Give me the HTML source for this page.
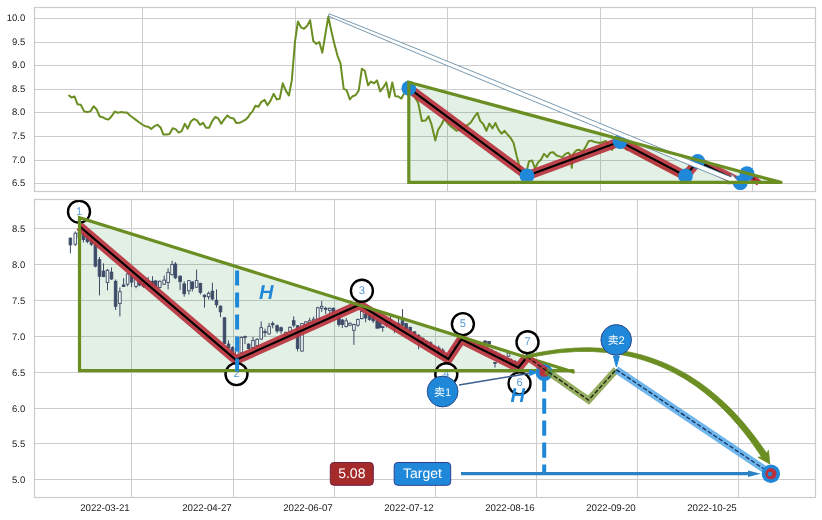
<!DOCTYPE html>
<html lang="zh"><head><meta charset="utf-8"><title>Chart</title><style>html,body{margin:0;padding:0;background:#fff;}svg{display:block;}</style></head><body>
<svg width="822" height="520" viewBox="0 0 822 520" text-rendering="geometricPrecision" font-family="'Liberation Sans', 'Noto Sans CJK SC', sans-serif">
<rect x="0" y="0" width="822" height="520" fill="#ffffff"/>
<defs>
<clipPath id="ct"><rect x="34.5" y="7.5" width="781.0" height="184.0"/></clipPath>
<clipPath id="cb"><rect x="34.5" y="199.5" width="781.0" height="298.0"/></clipPath>
</defs>
<g stroke="#cccccc" stroke-width="1" fill="none">
<line x1="34.5" y1="18.5" x2="815.5" y2="18.5"/>
<line x1="34.5" y1="42.5" x2="815.5" y2="42.5"/>
<line x1="34.5" y1="65.5" x2="815.5" y2="65.5"/>
<line x1="34.5" y1="89.5" x2="815.5" y2="89.5"/>
<line x1="34.5" y1="112.5" x2="815.5" y2="112.5"/>
<line x1="34.5" y1="136.5" x2="815.5" y2="136.5"/>
<line x1="34.5" y1="160.5" x2="815.5" y2="160.5"/>
<line x1="34.5" y1="183.5" x2="815.5" y2="183.5"/>
<line x1="142.5" y1="7.5" x2="142.5" y2="191.5"/>
<line x1="295.5" y1="7.5" x2="295.5" y2="191.5"/>
<line x1="447.5" y1="7.5" x2="447.5" y2="191.5"/>
<line x1="600.5" y1="7.5" x2="600.5" y2="191.5"/>
<line x1="752.5" y1="7.5" x2="752.5" y2="191.5"/>
<line x1="34.5" y1="228.5" x2="815.5" y2="228.5"/>
<line x1="34.5" y1="264.5" x2="815.5" y2="264.5"/>
<line x1="34.5" y1="300.5" x2="815.5" y2="300.5"/>
<line x1="34.5" y1="336.5" x2="815.5" y2="336.5"/>
<line x1="34.5" y1="372.5" x2="815.5" y2="372.5"/>
<line x1="34.5" y1="408.5" x2="815.5" y2="408.5"/>
<line x1="34.5" y1="443.5" x2="815.5" y2="443.5"/>
<line x1="34.5" y1="479.5" x2="815.5" y2="479.5"/>
<line x1="131.5" y1="199.5" x2="131.5" y2="497.5"/>
<line x1="233.5" y1="199.5" x2="233.5" y2="497.5"/>
<line x1="334.5" y1="199.5" x2="334.5" y2="497.5"/>
<line x1="435.5" y1="199.5" x2="435.5" y2="497.5"/>
<line x1="536.5" y1="199.5" x2="536.5" y2="497.5"/>
<line x1="637.5" y1="199.5" x2="637.5" y2="497.5"/>
<line x1="738.5" y1="199.5" x2="738.5" y2="497.5"/>
</g>
<g fill="#222222" font-size="9.5px" text-anchor="end">
<text x="25.3" y="21.30">10.0</text>
<text x="25.3" y="45.30">9.5</text>
<text x="25.3" y="68.30">9.0</text>
<text x="25.3" y="92.30">8.5</text>
<text x="25.3" y="115.30">8.0</text>
<text x="25.3" y="139.30">7.5</text>
<text x="25.3" y="163.30">7.0</text>
<text x="25.3" y="186.30">6.5</text>
<text x="25.3" y="231.60">8.5</text>
<text x="25.3" y="267.60">8.0</text>
<text x="25.3" y="303.60">7.5</text>
<text x="25.3" y="339.60">7.0</text>
<text x="25.3" y="375.60">6.5</text>
<text x="25.3" y="411.60">6.0</text>
<text x="25.3" y="446.60">5.5</text>
<text x="25.3" y="482.60">5.0</text>
<text x="129.70" y="510.9" font-size="9.7px">2022-03-21</text>
<text x="231.70" y="510.9" font-size="9.7px">2022-04-27</text>
<text x="332.70" y="510.9" font-size="9.7px">2022-06-07</text>
<text x="433.70" y="510.9" font-size="9.7px">2022-07-12</text>
<text x="534.70" y="510.9" font-size="9.7px">2022-08-16</text>
<text x="635.70" y="510.9" font-size="9.7px">2022-09-20</text>
<text x="736.70" y="510.9" font-size="9.7px">2022-10-25</text>
</g>
<g clip-path="url(#ct)">
<polygon points="408.8,82.3 408.8,182.4 781.0,182.4" fill="#1e8c3c" fill-opacity="0.13"/>
<path d="M69.2,95.6 L71.4,97.5 L74.6,96.5 L77.5,104.3 L80.7,104.8 L84.3,111.6 L87.5,112.1 L90.7,111.1 L93.6,106.3 L96.5,109.2 L99.7,116.5 L102.6,117.2 L105.7,118.9 L108.7,119.4 L111.8,116.0 L114.7,111.6 L117.9,112.8 L120.8,112.1 L124.0,112.4 L126.9,112.6 L130.1,115.5 L133.0,117.7 L136.2,120.1 L139.1,122.3 L142.2,124.5 L145.2,126.2 L148.3,126.7 L151.2,128.9 L154.4,126.2 L157.3,124.8 L160.5,127.4 L163.4,134.5 L166.6,134.5 L169.5,134.0 L172.7,128.2 L175.6,129.1 L178.7,132.6 L181.7,131.1 L184.8,123.8 L187.7,128.7 L190.9,121.4 L193.8,118.9 L197.0,120.4 L199.9,124.8 L203.1,122.8 L206.0,127.7 L209.1,127.7 L212.1,121.4 L215.2,117.0 L218.2,118.4 L221.3,123.8 L224.2,119.4 L227.4,115.5 L230.3,117.7 L233.5,118.4 L236.4,123.1 L239.6,122.8 L242.5,121.4 L245.6,119.7 L248.6,116.5 L250.0,114.0 L252.4,111.6 L255.4,105.7 L258.5,106.7 L261.4,101.8 L264.6,99.9 L267.5,105.2 L270.7,100.4 L273.6,93.8 L276.8,99.4 L279.7,98.7 L282.8,83.3 L285.8,90.6 L288.9,95.5 L291.8,80.4 L295.0,41.5 L297.9,21.5 L301.1,27.4 L304.0,28.8 L307.2,25.7 L310.1,20.1 L313.3,41.0 L316.2,43.9 L319.3,42.0 L322.3,52.7 L325.4,34.2 L328.3,16.7 L331.5,31.8 L334.4,43.9 L337.6,56.1 L340.5,63.4 L343.7,88.9 L346.6,90.2 L349.8,99.4 L352.7,96.2 L355.8,95.0 L358.8,90.2 L361.9,68.7 L364.8,70.7 L368.0,85.3 L370.9,81.6 L374.1,83.3 L377.0,80.4 L380.2,91.4 L383.1,87.7 L386.3,82.4 L389.2,97.5 L392.3,82.4 L395.3,96.2 L398.4,96.5 L401.3,98.7 L404.5,92.6 L406.1,90.7 L409.0,88.2 L411.7,91.9 L414.6,96.8 L418.2,102.8 L421.9,121.1 L425.5,120.6 L428.5,116.2 L431.6,124.7 L435.3,140.6 L438.2,129.6 L441.4,124.7 L444.3,118.7 L447.4,123.0 L450.4,126.0 L453.5,128.4 L456.4,130.8 L459.6,129.6 L462.5,128.4 L465.2,126.4 L468.1,124.7 L471.0,122.3 L474.2,117.0 L477.4,112.8 L480.3,121.1 L483.2,124.0 L486.4,130.8 L489.3,123.5 L492.5,128.4 L495.4,123.0 L498.5,129.6 L501.5,133.7 L504.6,130.8 L507.5,134.5 L510.7,138.1 L513.6,143.0 L516.8,156.4 L519.7,167.3 L522.9,172.2 L525.8,174.6 L529.0,161.2 L532.1,160.5 L535.0,168.5 L538.0,162.5 L541.1,159.5 L544.0,153.9 L547.2,157.1 L550.1,152.7 L553.3,152.2 L556.2,155.2 L559.4,156.4 L562.3,157.1 L565.5,153.9 L568.4,152.7 L570.3,155.2 L571.8,167.8 L573.2,153.9 L576.4,150.3 L579.3,149.8 L582.5,151.5 L585.4,147.4 L588.6,141.3 L591.5,140.6 L594.6,142.0 L597.6,142.5 L600.0,143.0 L603.0,142.0 L606.0,141.0 L609.0,146.0 L612.0,150.0 L615.0,143.0 L618.0,140.0 L621.0,141.0 L624.0,146.0 L627.0,150.0 L630.0,148.0 L633.0,151.0 L636.0,154.0 L639.0,153.0 L642.0,157.0 L645.0,158.0 L648.0,160.0 L651.0,161.0 L654.0,163.0 L657.0,165.0 L660.0,166.0 L663.0,168.0 L666.0,169.0 L669.0,170.0 L672.0,172.0 L675.0,173.0 L678.0,174.0 L681.0,175.0 L684.0,176.0 L687.0,172.0 L690.0,166.0 L693.0,163.0 L696.0,161.0 L699.0,162.0 L702.0,164.0 L705.0,166.0 L708.0,167.0 L711.0,168.0 L714.0,170.0 L717.0,171.0 L720.0,172.0 L723.0,174.0 L726.0,175.0 L729.0,177.0 L732.0,178.0 L735.0,180.0 L738.0,181.0 L741.0,181.0 L744.0,177.0 L747.0,174.0" fill="none" stroke="#6b8e23" stroke-width="2" stroke-linejoin="round" stroke-linecap="round"/>
<polyline points="408.8,88.2 527.0,175.8 620.1,141.6 685.5,176.0 697.7,161.4 740.3,182.7 747.0,173.6" fill="none" stroke="#b9333e" stroke-opacity="0.92" stroke-width="9.4" stroke-linejoin="miter" stroke-linecap="butt"/>
<polyline points="408.8,88.2 527.0,175.8 620.1,141.6 685.5,176.0 697.7,161.4 740.3,182.7 747.0,173.6" fill="none" stroke="#000000" stroke-width="2.1" stroke-linejoin="miter"/>
<line x1="747.0" y1="173.6" x2="759.0" y2="183.0" stroke="#b9333e" stroke-width="6.5"/>
<line x1="747.0" y1="173.6" x2="759.0" y2="183.0" stroke="#5a1a1a" stroke-width="1.4" stroke-dasharray="4 2"/>
<circle cx="408.8" cy="88.2" r="7.4" fill="#2088d8"/>
<circle cx="527.0" cy="175.8" r="7.4" fill="#2088d8"/>
<circle cx="620.1" cy="141.6" r="7.4" fill="#2088d8"/>
<circle cx="685.5" cy="176.0" r="7.4" fill="#2088d8"/>
<circle cx="697.7" cy="161.4" r="7.4" fill="#2088d8"/>
<circle cx="740.3" cy="182.7" r="7.4" fill="#2088d8"/>
<circle cx="747.0" cy="173.6" r="7.4" fill="#2088d8"/>
<polygon points="328.2,16.0 376.2,36.2 420.3,54.5 500.5,87.6 729.4,181.4 727.3,183.9 740.0,183.2 731.4,173.8 731.2,177.0 502.2,83.5 421.8,50.8 377.5,33.0 329.2,13.8" fill="#ffffff" stroke="#3f6f8f" stroke-width="0.7" stroke-linejoin="miter"/>
<path d="M781.0,182.4 L408.8,182.4 L408.8,82.3 L781.0,182.4" fill="none" stroke="#6b8e23" stroke-width="3.2" stroke-linejoin="miter" stroke-linecap="round"/>
</g>
<g clip-path="url(#cb)">
<polygon points="79.5,217.6 79.5,370.6 573.0,370.6" fill="#1e8c3c" fill-opacity="0.13"/>
<g stroke="#3c4a66" stroke-width="1">
<line x1="70.4" y1="237.4" x2="70.4" y2="253.3"/>
<rect x="69.1" y="238.2" width="2.6" height="6.6" fill="#3c4a66" stroke-width="0.9"/>
<line x1="75.3" y1="231.4" x2="75.3" y2="246.0"/>
<rect x="74.0" y="233.2" width="2.6" height="11.0" fill="#f6fbf7" stroke-width="0.9"/>
<line x1="79.4" y1="230.5" x2="79.4" y2="241.5"/>
<rect x="78.1" y="232.3" width="2.6" height="5.5" fill="#3c4a66" stroke-width="0.9"/>
<line x1="83.4" y1="232.3" x2="83.4" y2="242.4"/>
<rect x="82.1" y="234.1" width="2.6" height="5.5" fill="#3c4a66" stroke-width="0.9"/>
<line x1="87.4" y1="234.1" x2="87.4" y2="243.3"/>
<rect x="86.1" y="236.0" width="2.6" height="5.5" fill="#3c4a66" stroke-width="0.9"/>
<line x1="91.4" y1="237.8" x2="91.4" y2="246.0"/>
<rect x="90.1" y="239.6" width="2.6" height="4.6" fill="#3c4a66" stroke-width="0.9"/>
<line x1="95.4" y1="243.3" x2="95.4" y2="267.4"/>
<rect x="94.1" y="245.1" width="2.6" height="21.0" fill="#3c4a66" stroke-width="0.9"/>
<line x1="99.5" y1="257.0" x2="99.5" y2="295.4"/>
<rect x="98.2" y="259.7" width="2.6" height="16.5" fill="#3c4a66" stroke-width="0.9"/>
<line x1="103.5" y1="263.4" x2="103.5" y2="277.1"/>
<rect x="102.2" y="271.1" width="2.6" height="5.5" fill="#3c4a66" stroke-width="0.9"/>
<line x1="107.5" y1="268.9" x2="107.5" y2="290.4"/>
<rect x="106.2" y="270.3" width="2.6" height="12.2" fill="#f6fbf7" stroke-width="0.9"/>
<line x1="111.5" y1="267.4" x2="111.5" y2="279.8"/>
<rect x="110.2" y="272.2" width="2.6" height="6.8" fill="#3c4a66" stroke-width="0.9"/>
<line x1="115.6" y1="279.5" x2="115.6" y2="310.0"/>
<rect x="114.3" y="281.3" width="2.6" height="25.0" fill="#3c4a66" stroke-width="0.9"/>
<line x1="119.9" y1="287.5" x2="119.9" y2="316.4"/>
<rect x="118.6" y="291.7" width="2.6" height="11.9" fill="#f6fbf7" stroke-width="0.9"/>
<line x1="123.6" y1="278.0" x2="123.6" y2="286.8"/>
<rect x="122.3" y="285.0" width="2.6" height="1.5" fill="#3c4a66" stroke-width="0.9"/>
<line x1="127.6" y1="272.5" x2="127.6" y2="286.4"/>
<rect x="126.3" y="274.0" width="2.6" height="10.2" fill="#f6fbf7" stroke-width="0.9"/>
<line x1="131.6" y1="274.0" x2="131.6" y2="287.2"/>
<rect x="130.3" y="275.5" width="2.6" height="6.6" fill="#3c4a66" stroke-width="0.9"/>
<line x1="136.0" y1="276.9" x2="136.0" y2="288.3"/>
<rect x="134.7" y="278.4" width="2.6" height="8.0" fill="#f6fbf7" stroke-width="0.9"/>
<line x1="139.8" y1="278.4" x2="139.8" y2="286.4"/>
<rect x="138.5" y="279.9" width="2.6" height="5.1" fill="#3c4a66" stroke-width="0.9"/>
<line x1="143.7" y1="281.3" x2="143.7" y2="287.9"/>
<rect x="142.4" y="283.5" width="2.6" height="2.9" fill="#3c4a66" stroke-width="0.9"/>
<line x1="148.1" y1="276.9" x2="148.1" y2="285.7"/>
<rect x="146.8" y="280.6" width="2.6" height="3.7" fill="#f6fbf7" stroke-width="0.9"/>
<line x1="152.5" y1="276.2" x2="152.5" y2="285.7"/>
<rect x="151.2" y="281.3" width="2.6" height="2.9" fill="#3c4a66" stroke-width="0.9"/>
<line x1="155.7" y1="279.9" x2="155.7" y2="287.5"/>
<rect x="154.4" y="281.0" width="2.6" height="5.4" fill="#3c4a66" stroke-width="0.9"/>
<line x1="159.8" y1="280.6" x2="159.8" y2="288.6"/>
<rect x="158.5" y="281.3" width="2.6" height="6.1" fill="#f6fbf7" stroke-width="0.9"/>
<line x1="164.2" y1="275.5" x2="164.2" y2="285.0"/>
<rect x="162.9" y="280.1" width="2.6" height="4.1" fill="#f6fbf7" stroke-width="0.9"/>
<line x1="168.1" y1="268.2" x2="168.1" y2="289.4"/>
<rect x="166.8" y="272.3" width="2.6" height="10.2" fill="#f6fbf7" stroke-width="0.9"/>
<line x1="172.1" y1="260.8" x2="172.1" y2="275.5"/>
<rect x="170.8" y="264.5" width="2.6" height="10.2" fill="#f6fbf7" stroke-width="0.9"/>
<line x1="175.4" y1="262.0" x2="175.4" y2="279.1"/>
<rect x="174.1" y="264.1" width="2.6" height="13.6" fill="#3c4a66" stroke-width="0.9"/>
<line x1="180.1" y1="275.5" x2="180.1" y2="290.1"/>
<rect x="178.8" y="276.2" width="2.6" height="5.4" fill="#3c4a66" stroke-width="0.9"/>
<line x1="184.2" y1="281.3" x2="184.2" y2="296.7"/>
<rect x="182.9" y="283.9" width="2.6" height="9.8" fill="#3c4a66" stroke-width="0.9"/>
<line x1="188.9" y1="279.9" x2="188.9" y2="294.5"/>
<rect x="187.6" y="280.6" width="2.6" height="10.2" fill="#f6fbf7" stroke-width="0.9"/>
<line x1="192.3" y1="281.3" x2="192.3" y2="291.5"/>
<rect x="191.0" y="282.0" width="2.6" height="6.6" fill="#3c4a66" stroke-width="0.9"/>
<line x1="196.6" y1="269.6" x2="196.6" y2="287.9"/>
<rect x="195.3" y="280.6" width="2.6" height="6.6" fill="#f6fbf7" stroke-width="0.9"/>
<line x1="200.4" y1="282.8" x2="200.4" y2="294.5"/>
<rect x="199.1" y="283.5" width="2.6" height="8.8" fill="#3c4a66" stroke-width="0.9"/>
<line x1="204.5" y1="294.5" x2="204.5" y2="307.6"/>
<rect x="203.2" y="295.2" width="2.6" height="1.5" fill="#3c4a66" stroke-width="0.9"/>
<line x1="208.6" y1="291.5" x2="208.6" y2="299.6"/>
<rect x="207.3" y="293.3" width="2.6" height="3.4" fill="#f6fbf7" stroke-width="0.9"/>
<line x1="212.4" y1="282.8" x2="212.4" y2="300.3"/>
<rect x="211.1" y="291.3" width="2.6" height="7.6" fill="#3c4a66" stroke-width="0.9"/>
<line x1="216.5" y1="289.4" x2="216.5" y2="307.6"/>
<rect x="215.2" y="300.3" width="2.6" height="4.4" fill="#3c4a66" stroke-width="0.9"/>
<line x1="220.5" y1="305.4" x2="220.5" y2="317.1"/>
<rect x="219.2" y="306.2" width="2.6" height="5.6" fill="#3c4a66" stroke-width="0.9"/>
<line x1="224.5" y1="317.0" x2="224.5" y2="344.1"/>
<rect x="223.2" y="317.8" width="2.6" height="25.6" fill="#3c4a66" stroke-width="0.9"/>
<line x1="228.5" y1="340.4" x2="228.5" y2="348.5"/>
<rect x="227.2" y="344.1" width="2.6" height="3.7" fill="#3c4a66" stroke-width="0.9"/>
<line x1="232.5" y1="346.3" x2="232.5" y2="355.8"/>
<rect x="231.2" y="347.7" width="2.6" height="6.6" fill="#3c4a66" stroke-width="0.9"/>
<line x1="236.9" y1="345.6" x2="236.9" y2="358.7"/>
<rect x="235.6" y="348.5" width="2.6" height="7.3" fill="#f6fbf7" stroke-width="0.9"/>
<line x1="241.3" y1="336.5" x2="241.3" y2="353.6"/>
<rect x="240.0" y="337.5" width="2.6" height="15.4" fill="#f6fbf7" stroke-width="0.9"/>
<line x1="245.0" y1="335.6" x2="245.0" y2="344.1"/>
<rect x="243.7" y="336.5" width="2.6" height="1.0" fill="#f6fbf7" stroke-width="0.9"/>
<line x1="248.6" y1="343.4" x2="248.6" y2="349.2"/>
<rect x="247.3" y="344.1" width="2.6" height="4.4" fill="#3c4a66" stroke-width="0.9"/>
<line x1="253.0" y1="336.8" x2="253.0" y2="348.5"/>
<rect x="251.7" y="340.4" width="2.6" height="7.3" fill="#f6fbf7" stroke-width="0.9"/>
<line x1="257.1" y1="338.2" x2="257.1" y2="346.3"/>
<rect x="255.8" y="339.4" width="2.6" height="6.1" fill="#f6fbf7" stroke-width="0.9"/>
<line x1="261.2" y1="321.4" x2="261.2" y2="339.7"/>
<rect x="259.9" y="327.7" width="2.6" height="11.3" fill="#f6fbf7" stroke-width="0.9"/>
<line x1="265.0" y1="328.7" x2="265.0" y2="336.8"/>
<rect x="263.7" y="331.7" width="2.6" height="0.9" fill="#3c4a66" stroke-width="0.9"/>
<line x1="269.1" y1="322.9" x2="269.1" y2="334.6"/>
<rect x="267.8" y="326.3" width="2.6" height="7.6" fill="#f6fbf7" stroke-width="0.9"/>
<line x1="272.7" y1="321.4" x2="272.7" y2="328.3"/>
<rect x="271.4" y="323.6" width="2.6" height="1.2" fill="#3c4a66" stroke-width="0.9"/>
<line x1="277.1" y1="324.4" x2="277.1" y2="333.1"/>
<rect x="275.8" y="325.8" width="2.6" height="5.1" fill="#3c4a66" stroke-width="0.9"/>
<line x1="281.1" y1="326.5" x2="281.1" y2="333.9"/>
<rect x="279.8" y="327.7" width="2.6" height="3.2" fill="#3c4a66" stroke-width="0.9"/>
<line x1="285.9" y1="331.7" x2="285.9" y2="336.1"/>
<rect x="284.6" y="332.4" width="2.6" height="2.9" fill="#f6fbf7" stroke-width="0.9"/>
<line x1="290.0" y1="326.5" x2="290.0" y2="332.4"/>
<rect x="288.7" y="327.3" width="2.6" height="4.4" fill="#f6fbf7" stroke-width="0.9"/>
<line x1="293.7" y1="316.3" x2="293.7" y2="327.3"/>
<rect x="292.4" y="320.7" width="2.6" height="4.4" fill="#3c4a66" stroke-width="0.9"/>
<line x1="297.6" y1="325.1" x2="297.6" y2="351.4"/>
<rect x="296.3" y="325.8" width="2.6" height="22.7" fill="#3c4a66" stroke-width="0.9"/>
<line x1="302.0" y1="323.3" x2="302.0" y2="351.4"/>
<rect x="300.7" y="323.6" width="2.6" height="27.5" fill="#f6fbf7" stroke-width="0.9"/>
<line x1="305.9" y1="321.0" x2="305.9" y2="325.8"/>
<rect x="304.6" y="321.9" width="2.6" height="3.2" fill="#f6fbf7" stroke-width="0.9"/>
<line x1="309.7" y1="317.8" x2="309.7" y2="323.6"/>
<rect x="308.4" y="320.7" width="2.6" height="2.2" fill="#f6fbf7" stroke-width="0.9"/>
<line x1="313.7" y1="316.6" x2="313.7" y2="322.9"/>
<rect x="312.4" y="319.2" width="2.6" height="2.9" fill="#f6fbf7" stroke-width="0.9"/>
<line x1="317.8" y1="306.8" x2="317.8" y2="320.0"/>
<rect x="316.5" y="307.8" width="2.6" height="11.4" fill="#f6fbf7" stroke-width="0.9"/>
<line x1="321.7" y1="301.0" x2="321.7" y2="311.9"/>
<rect x="320.4" y="306.4" width="2.6" height="1.9" fill="#f6fbf7" stroke-width="0.9"/>
<line x1="325.7" y1="306.8" x2="325.7" y2="314.1"/>
<rect x="324.4" y="308.3" width="2.6" height="1.0" fill="#3c4a66" stroke-width="0.9"/>
<line x1="329.8" y1="307.5" x2="329.8" y2="314.1"/>
<rect x="328.5" y="308.3" width="2.6" height="2.2" fill="#f6fbf7" stroke-width="0.9"/>
<line x1="333.4" y1="307.5" x2="333.4" y2="313.4"/>
<rect x="332.1" y="308.3" width="2.6" height="3.7" fill="#3c4a66" stroke-width="0.9"/>
<line x1="338.9" y1="316.4" x2="338.9" y2="326.7"/>
<rect x="337.6" y="317.9" width="2.6" height="6.6" fill="#3c4a66" stroke-width="0.9"/>
<line x1="342.3" y1="318.9" x2="342.3" y2="328.1"/>
<rect x="341.0" y="320.1" width="2.6" height="4.4" fill="#3c4a66" stroke-width="0.9"/>
<line x1="346.2" y1="317.9" x2="346.2" y2="327.4"/>
<rect x="344.9" y="320.8" width="2.6" height="5.8" fill="#f6fbf7" stroke-width="0.9"/>
<line x1="349.9" y1="322.3" x2="349.9" y2="326.2"/>
<rect x="348.6" y="323.3" width="2.6" height="1.9" fill="#f6fbf7" stroke-width="0.9"/>
<line x1="353.9" y1="323.7" x2="353.9" y2="344.9"/>
<rect x="352.6" y="324.5" width="2.6" height="5.8" fill="#f6fbf7" stroke-width="0.9"/>
<line x1="357.9" y1="318.6" x2="357.9" y2="326.7"/>
<rect x="356.6" y="319.4" width="2.6" height="5.8" fill="#f6fbf7" stroke-width="0.9"/>
<line x1="361.8" y1="306.9" x2="361.8" y2="319.4"/>
<rect x="360.5" y="311.3" width="2.6" height="7.3" fill="#f6fbf7" stroke-width="0.9"/>
<line x1="365.6" y1="312.8" x2="365.6" y2="322.3"/>
<rect x="364.3" y="314.2" width="2.6" height="3.7" fill="#3c4a66" stroke-width="0.9"/>
<line x1="369.6" y1="314.2" x2="369.6" y2="320.8"/>
<rect x="368.3" y="315.0" width="2.6" height="4.4" fill="#3c4a66" stroke-width="0.9"/>
<line x1="373.2" y1="315.0" x2="373.2" y2="323.0"/>
<rect x="371.9" y="316.4" width="2.6" height="4.4" fill="#3c4a66" stroke-width="0.9"/>
<line x1="377.2" y1="319.4" x2="377.2" y2="328.9"/>
<rect x="375.9" y="320.8" width="2.6" height="7.3" fill="#3c4a66" stroke-width="0.9"/>
<line x1="379.8" y1="321.5" x2="379.8" y2="328.6"/>
<rect x="378.5" y="323.0" width="2.6" height="4.4" fill="#3c4a66" stroke-width="0.9"/>
<line x1="382.7" y1="325.9" x2="382.7" y2="331.8"/>
<rect x="381.4" y="326.7" width="2.6" height="0.8" fill="#3c4a66" stroke-width="0.9"/>
<line x1="386.4" y1="320.1" x2="386.4" y2="327.4"/>
<rect x="385.1" y="321.5" width="2.6" height="2.9" fill="#3c4a66" stroke-width="0.9"/>
<line x1="390.5" y1="315.0" x2="390.5" y2="325.9"/>
<rect x="389.2" y="320.1" width="2.6" height="3.7" fill="#3c4a66" stroke-width="0.9"/>
<line x1="394.4" y1="321.5" x2="394.4" y2="333.2"/>
<rect x="393.1" y="323.0" width="2.6" height="3.7" fill="#3c4a66" stroke-width="0.9"/>
<line x1="398.5" y1="318.6" x2="398.5" y2="328.9"/>
<rect x="397.2" y="323.7" width="2.6" height="3.7" fill="#3c4a66" stroke-width="0.9"/>
<line x1="402.5" y1="309.1" x2="402.5" y2="326.7"/>
<rect x="401.2" y="320.8" width="2.6" height="4.4" fill="#3c4a66" stroke-width="0.9"/>
<line x1="406.1" y1="322.7" x2="406.1" y2="330.6"/>
<rect x="404.8" y="323.7" width="2.6" height="5.1" fill="#3c4a66" stroke-width="0.9"/>
<line x1="410.2" y1="326.7" x2="410.2" y2="332.5"/>
<rect x="408.9" y="327.4" width="2.6" height="3.7" fill="#3c4a66" stroke-width="0.9"/>
<line x1="414.5" y1="331.1" x2="414.5" y2="335.4"/>
<rect x="413.2" y="331.8" width="2.6" height="2.2" fill="#3c4a66" stroke-width="0.9"/>
<line x1="418.6" y1="334.0" x2="418.6" y2="349.3"/>
<rect x="417.3" y="335.4" width="2.6" height="3.7" fill="#3c4a66" stroke-width="0.9"/>
<line x1="422.7" y1="337.3" x2="422.7" y2="342.3"/>
<rect x="421.4" y="338.4" width="2.6" height="2.9" fill="#3c4a66" stroke-width="0.9"/>
<line x1="426.6" y1="340.3" x2="426.6" y2="344.9"/>
<rect x="425.3" y="341.3" width="2.6" height="2.2" fill="#3c4a66" stroke-width="0.9"/>
<line x1="430.6" y1="341.3" x2="430.6" y2="347.1"/>
<rect x="429.3" y="342.7" width="2.6" height="2.9" fill="#3c4a66" stroke-width="0.9"/>
<line x1="434.6" y1="344.9" x2="434.6" y2="350.1"/>
<rect x="433.3" y="346.4" width="2.6" height="2.2" fill="#3c4a66" stroke-width="0.9"/>
<line x1="438.7" y1="345.7" x2="438.7" y2="352.3"/>
<rect x="437.4" y="347.9" width="2.6" height="2.9" fill="#3c4a66" stroke-width="0.9"/>
<line x1="442.7" y1="348.2" x2="442.7" y2="353.7"/>
<rect x="441.4" y="350.1" width="2.6" height="2.5" fill="#3c4a66" stroke-width="0.9"/>
<line x1="446.7" y1="353.2" x2="446.7" y2="357.6"/>
<rect x="445.4" y="354.5" width="2.6" height="2.0" fill="#3c4a66" stroke-width="0.9"/>
<line x1="450.8" y1="350.0" x2="450.8" y2="354.8"/>
<rect x="449.5" y="351.5" width="2.6" height="2.7" fill="#3c4a66" stroke-width="0.9"/>
<line x1="454.8" y1="344.2" x2="454.8" y2="348.4"/>
<rect x="453.5" y="346.0" width="2.6" height="1.5" fill="#3c4a66" stroke-width="0.9"/>
<line x1="458.8" y1="337.7" x2="458.8" y2="342.8"/>
<rect x="457.5" y="339.7" width="2.6" height="2.0" fill="#3c4a66" stroke-width="0.9"/>
<line x1="462.8" y1="334.9" x2="462.8" y2="340.7"/>
<rect x="461.5" y="336.1" width="2.6" height="3.2" fill="#3c4a66" stroke-width="0.9"/>
<line x1="466.9" y1="337.3" x2="466.9" y2="342.4"/>
<rect x="465.6" y="338.8" width="2.6" height="1.8" fill="#3c4a66" stroke-width="0.9"/>
<line x1="470.9" y1="338.8" x2="470.9" y2="344.4"/>
<rect x="469.6" y="340.4" width="2.6" height="2.5" fill="#3c4a66" stroke-width="0.9"/>
<line x1="474.9" y1="341.2" x2="474.9" y2="345.8"/>
<rect x="473.6" y="342.8" width="2.6" height="1.6" fill="#3c4a66" stroke-width="0.9"/>
<line x1="479.0" y1="344.0" x2="479.0" y2="348.5"/>
<rect x="477.7" y="344.6" width="2.6" height="2.1" fill="#3c4a66" stroke-width="0.9"/>
<line x1="483.0" y1="344.8" x2="483.0" y2="350.7"/>
<rect x="481.7" y="346.4" width="2.6" height="2.4" fill="#3c4a66" stroke-width="0.9"/>
<line x1="487.0" y1="346.3" x2="487.0" y2="352.2"/>
<rect x="485.7" y="348.1" width="2.6" height="2.9" fill="#3c4a66" stroke-width="0.9"/>
<line x1="491.1" y1="348.9" x2="491.1" y2="355.0"/>
<rect x="489.8" y="350.0" width="2.6" height="3.1" fill="#3c4a66" stroke-width="0.9"/>
<line x1="495.1" y1="351.3" x2="495.1" y2="355.9"/>
<rect x="493.8" y="352.0" width="2.6" height="3.3" fill="#3c4a66" stroke-width="0.9"/>
<line x1="499.1" y1="352.7" x2="499.1" y2="357.7"/>
<rect x="497.8" y="354.6" width="2.6" height="1.9" fill="#3c4a66" stroke-width="0.9"/>
<line x1="503.1" y1="355.2" x2="503.1" y2="360.2"/>
<rect x="501.8" y="356.2" width="2.6" height="2.8" fill="#3c4a66" stroke-width="0.9"/>
<line x1="507.2" y1="357.4" x2="507.2" y2="362.1"/>
<rect x="505.9" y="358.4" width="2.6" height="2.3" fill="#3c4a66" stroke-width="0.9"/>
<line x1="511.2" y1="358.4" x2="511.2" y2="364.4"/>
<rect x="509.9" y="360.2" width="2.6" height="2.7" fill="#3c4a66" stroke-width="0.9"/>
<line x1="515.2" y1="360.1" x2="515.2" y2="367.2"/>
<rect x="513.9" y="361.9" width="2.6" height="3.4" fill="#3c4a66" stroke-width="0.9"/>
<line x1="519.3" y1="361.9" x2="519.3" y2="367.3"/>
<rect x="518.0" y="362.6" width="2.6" height="2.8" fill="#3c4a66" stroke-width="0.9"/>
<line x1="523.3" y1="355.5" x2="523.3" y2="362.1"/>
<rect x="522.0" y="357.4" width="2.6" height="3.4" fill="#3c4a66" stroke-width="0.9"/>
<line x1="527.3" y1="352.5" x2="527.3" y2="358.0"/>
<rect x="526.0" y="353.3" width="2.6" height="2.9" fill="#3c4a66" stroke-width="0.9"/>
<line x1="485.0" y1="340.5" x2="485.0" y2="345.0"/>
<rect x="483.7" y="341.0" width="2.6" height="2.5" fill="#3c4a66" stroke-width="0.9"/>
<line x1="489.0" y1="341.0" x2="489.0" y2="346.0"/>
<rect x="487.7" y="341.5" width="2.6" height="2.5" fill="#3c4a66" stroke-width="0.9"/>
<line x1="495.0" y1="362.5" x2="495.0" y2="367.6"/>
<rect x="493.7" y="362.5" width="2.6" height="0.8" fill="#3c4a66" stroke-width="0.9"/>
<line x1="508.5" y1="352.5" x2="508.5" y2="356.8"/>
<rect x="507.2" y="353.0" width="2.6" height="3.3" fill="#f6fbf7" stroke-width="0.9"/>
</g>
<text x="266.3" y="298.8" font-size="20px" font-weight="bold" font-style="italic" fill="#2088d8" text-anchor="middle">H</text>
<polyline points="79.5,226.3 236.0,360.0 359.4,304.7 448.3,359.0 461.3,339.4 518.4,367.6 527.0,357.0" fill="none" stroke="#b9333e" stroke-opacity="0.92" stroke-width="9.4" stroke-linejoin="miter"/>
<polyline points="79.5,226.3 236.0,360.0 359.4,304.7 448.3,359.0 461.3,339.4 518.4,367.6 527.0,357.0" fill="none" stroke="#000000" stroke-width="2.1" stroke-linejoin="miter"/>
<circle cx="79.0" cy="211.7" r="11" fill="#ffffff" stroke="#000000" stroke-width="2.4"/>
<text x="79.0" y="214.6" font-size="11.2px" fill="#5b9bd5" text-anchor="middle">1</text>
<circle cx="236.5" cy="374.1" r="11" fill="#ffffff" stroke="#000000" stroke-width="2.4"/>
<text x="236.5" y="377.0" font-size="11.2px" fill="#5b9bd5" text-anchor="middle">2</text>
<circle cx="361.9" cy="290.8" r="11" fill="#ffffff" stroke="#000000" stroke-width="2.4"/>
<text x="361.9" y="293.7" font-size="11.2px" fill="#5b9bd5" text-anchor="middle">3</text>
<circle cx="446.3" cy="374.2" r="11" fill="#ffffff" stroke="#000000" stroke-width="2.4"/>
<text x="446.3" y="377.1" font-size="11.2px" fill="#5b9bd5" text-anchor="middle">4</text>
<circle cx="462.9" cy="324.1" r="11" fill="#ffffff" stroke="#000000" stroke-width="2.4"/>
<text x="462.9" y="327.0" font-size="11.2px" fill="#5b9bd5" text-anchor="middle">5</text>
<circle cx="519.5" cy="383.4" r="11" fill="#ffffff" stroke="#000000" stroke-width="2.4"/>
<text x="519.5" y="386.3" font-size="11.2px" fill="#5b9bd5" text-anchor="middle">6</text>
<circle cx="527.5" cy="342.2" r="11" fill="#ffffff" stroke="#000000" stroke-width="2.4"/>
<text x="527.5" y="345.1" font-size="11.2px" fill="#5b9bd5" text-anchor="middle">7</text>
<path d="M573.0,370.6 L79.5,370.6 L79.5,217.6 L573.3,372.0" fill="none" stroke="#6b8e23" stroke-width="3.2" stroke-linejoin="miter" stroke-linecap="round"/>
<line x1="237.1" y1="270.4" x2="237.1" y2="371.5" stroke="#2088d8" stroke-width="4" stroke-dasharray="15.2 6.8"/>
<circle cx="544.2" cy="372.5" r="8.6" fill="#2088d8"/>
<circle cx="544.2" cy="372.5" r="4.8" fill="#b9333e"/>
<line x1="459" y1="385" x2="530" y2="373.2" stroke="#3d5f8f" stroke-width="1.6"/>
<polygon points="529,369.3 538.5,372.3 529.4,376.2" fill="#2088d8"/>
<line x1="527.0" y1="357.0" x2="546.0" y2="370.3" stroke="#b9333e" stroke-opacity="0.9" stroke-width="6.5"/>
<polyline points="546.0,370.3 588.6,400.2 616.2,369.6" fill="none" stroke="#6b8e23" stroke-opacity="0.72" stroke-width="7" stroke-linejoin="miter"/>
<line x1="616.2" y1="369.6" x2="770.9" y2="473.7" stroke="#4aa3e6" stroke-opacity="0.8" stroke-width="7.5"/>
<polyline points="527.0,357.0 588.6,400.2 616.2,369.6" fill="none" stroke="#1c1a10" stroke-width="1.3" stroke-dasharray="4.5 2"/>
<line x1="616.2" y1="369.6" x2="770.9" y2="473.7" stroke="#14315e" stroke-width="1.3" stroke-dasharray="4.5 2"/>
<line x1="544.2" y1="376.5" x2="544.2" y2="473.7" stroke="#2088d8" stroke-width="4" stroke-dasharray="15.2 6.8"/>
<line x1="461" y1="473.7" x2="750" y2="473.7" stroke="#2b83c6" stroke-width="3.2"/>
<polygon points="748,470.4 760.8,473.7 748,477" fill="#2b83c6"/>
<polygon points="526.9,355.1 531.8,354.0 536.8,353.0 541.7,352.1 546.6,351.2 551.5,350.5 556.3,349.8 561.1,349.2 565.8,348.8 570.5,348.4 575.2,348.1 579.9,347.9 584.5,347.8 589.1,347.8 593.6,347.9 598.2,348.1 602.7,348.4 607.1,348.7 611.5,349.2 615.9,349.7 620.3,350.4 624.6,351.1 628.9,352.0 633.2,352.9 637.4,353.9 641.6,355.0 645.7,356.3 649.9,357.6 654.0,359.0 658.0,360.5 662.0,362.1 666.0,363.7 670.0,365.5 673.9,367.4 677.8,369.4 681.6,371.4 685.5,373.6 689.3,375.8 693.0,378.2 696.7,380.6 700.4,383.1 704.0,385.7 707.7,388.5 711.2,391.3 714.8,394.2 718.3,397.2 721.8,400.3 725.2,403.5 728.6,406.7 732.0,410.1 735.3,413.6 738.6,417.1 741.9,420.8 745.1,424.5 748.3,428.4 751.4,432.3 754.5,436.3 757.6,440.4 760.7,444.7 763.7,449.0 766.7,453.3 768.5,450.3 769.8,464.0 758.0,457.3 761.5,456.8 758.6,452.4 755.7,448.2 752.7,444.0 749.8,439.9 746.7,435.9 743.7,432.1 740.6,428.3 737.5,424.6 734.3,421.0 731.2,417.4 727.9,414.0 724.7,410.7 721.4,407.4 718.1,404.3 714.7,401.2 711.3,398.3 707.9,395.4 704.4,392.6 700.9,389.9 697.4,387.3 693.9,384.8 690.3,382.4 686.6,380.0 683.0,377.8 679.3,375.7 675.5,373.6 671.8,371.6 668.0,369.8 664.1,368.0 660.3,366.3 656.4,364.7 652.4,363.2 648.4,361.8 644.4,360.4 640.4,359.2 636.3,358.1 632.2,357.0 628.0,356.1 623.8,355.2 619.6,354.4 615.4,353.7 611.1,353.1 606.7,352.6 602.4,352.2 597.9,351.9 593.5,351.6 589.0,351.5 584.5,351.5 580.0,351.5 575.4,351.6 570.8,351.9 566.1,352.2 561.4,352.6 556.7,353.1 551.9,353.7 547.1,354.4 542.3,355.2 537.4,356.0 532.5,357.0 527.5,358.1" fill="#6b8e23" stroke="#6b8e23" stroke-width="0.8" stroke-linejoin="miter"/>
<circle cx="770.9" cy="473.7" r="9.2" fill="#2088d8"/>
<circle cx="770.9" cy="473.7" r="5.6" fill="#b9333e"/>
<circle cx="769.9" cy="474.0" r="2.2" fill="#2088d8"/>
<text x="517.8" y="401.8" font-size="20px" font-weight="bold" font-style="italic" fill="#2088d8" text-anchor="middle">H</text>
<circle cx="442.6" cy="391.5" r="15.4" fill="#2088d8" stroke="#2b4a8c" stroke-width="1"/>
<text x="442.6" y="395.6" font-size="11px" fill="#ffffff" text-anchor="middle">卖1</text>
<polygon points="613.4,356 619.4,356 616.4,367" fill="#2088d8" stroke="#2088d8" stroke-width="1"/>
<circle cx="616.2" cy="339.9" r="15.3" fill="#2088d8" stroke="#2b4a8c" stroke-width="1"/>
<text x="616.2" y="343.9" font-size="11px" fill="#ffffff" text-anchor="middle">卖2</text>
<rect x="330.3" y="462.5" width="43" height="22.8" rx="3.5" ry="3.5" fill="#a52a2a" stroke="#6e2247" stroke-width="1"/>
<text x="351.8" y="477.7" font-size="14px" fill="#ffffff" text-anchor="middle">5.08</text>
<rect x="394.2" y="462.5" width="56.5" height="22.8" rx="3.5" ry="3.5" fill="#2088d8" stroke="#2b3f95" stroke-width="1"/>
<text x="422.5" y="477.7" font-size="14px" fill="#ffffff" text-anchor="middle">Target</text>
</g>
<g fill="none" stroke="#cccccc" stroke-width="1.25">
<rect x="34.5" y="7.5" width="781.0" height="184.0"/>
<rect x="34.5" y="199.5" width="781.0" height="298.0"/>
</g>
</svg>
</body></html>
